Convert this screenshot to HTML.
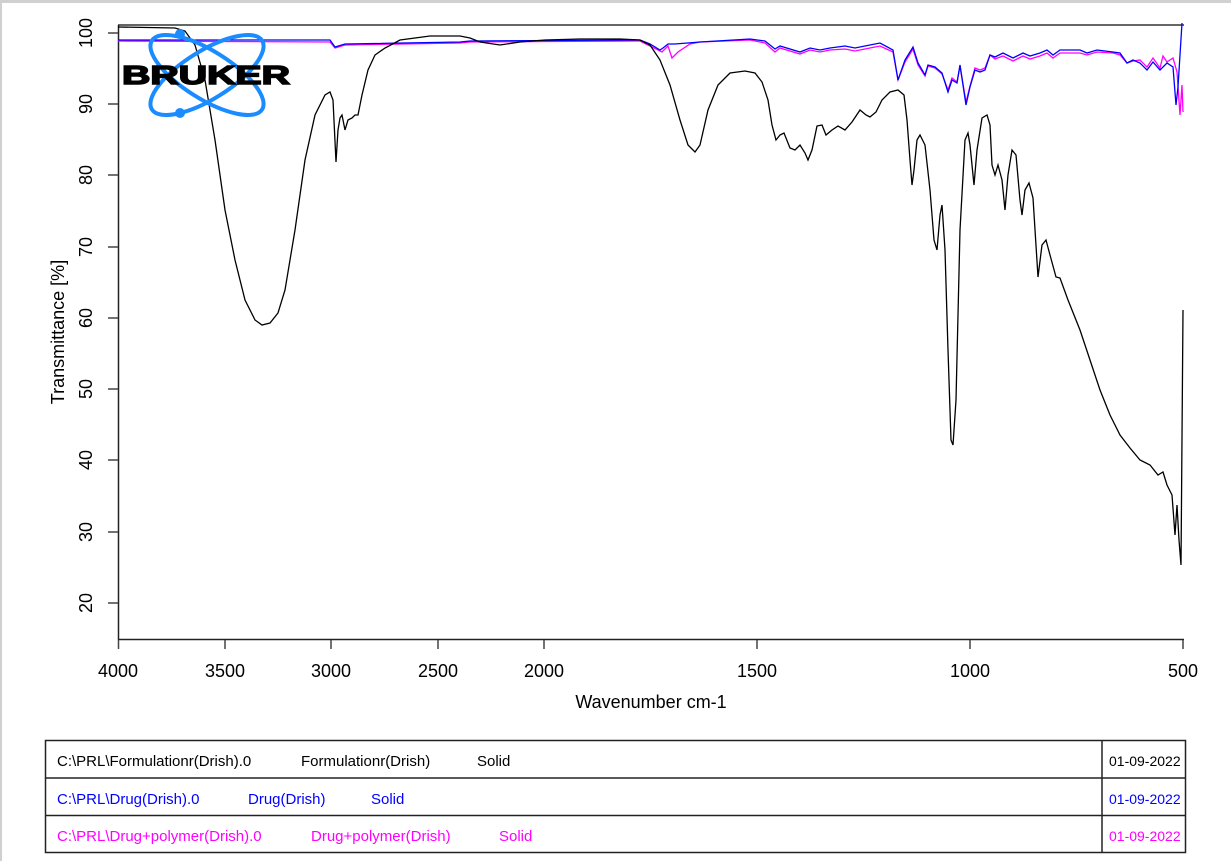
<!DOCTYPE html>
<html><head><meta charset="utf-8"><style>
body{margin:0;background:#fff;}
svg{display:block;font-family:"Liberation Sans",Arial,sans-serif;}
</style></head><body>
<svg width="1231" height="861" viewBox="0 0 1231 861" xmlns="http://www.w3.org/2000/svg">
<rect x="0" y="0" width="1231" height="861" fill="#fff"/>
<rect x="0" y="0" width="1231" height="3" fill="#d0d0d0"/>
<rect x="0" y="0" width="2" height="861" fill="#d0d0d0"/>
<line x1="118" y1="25" x2="1184" y2="25" stroke="#666" stroke-width="2"/>
<line x1="118.5" y1="25" x2="118.5" y2="640" stroke="#222" stroke-width="1.5"/>
<line x1="118" y1="639.5" x2="1184" y2="639.5" stroke="#222" stroke-width="1.5"/>
<g stroke="#444" stroke-width="1.5">
<line x1="108" y1="33" x2="118" y2="33"/><line x1="108" y1="104" x2="118" y2="104"/>
<line x1="108" y1="175" x2="118" y2="175"/><line x1="108" y1="247" x2="118" y2="247"/>
<line x1="108" y1="318" x2="118" y2="318"/><line x1="108" y1="389" x2="118" y2="389"/>
<line x1="108" y1="460" x2="118" y2="460"/><line x1="108" y1="532" x2="118" y2="532"/>
<line x1="108" y1="603" x2="118" y2="603"/>
<line x1="118.5" y1="640" x2="118.5" y2="649"/><line x1="225" y1="640" x2="225" y2="649"/>
<line x1="331" y1="640" x2="331" y2="649"/><line x1="438" y1="640" x2="438" y2="649"/>
<line x1="544" y1="640" x2="544" y2="649"/>
<line x1="757" y1="640" x2="757" y2="649"/>
<line x1="970" y1="640" x2="970" y2="649"/>
<line x1="1183" y1="640" x2="1183" y2="649"/>
</g>
<g font-size="18" fill="#000" text-anchor="middle">
<text x="118" y="677">4000</text><text x="225" y="677">3500</text><text x="331" y="677">3000</text>
<text x="438" y="677">2500</text><text x="544" y="677">2000</text><text x="757" y="677">1500</text>
<text x="970" y="677">1000</text><text x="1183" y="677">500</text>
</g>
<g font-size="18" fill="#000" text-anchor="middle">
<text transform="translate(92,33) rotate(-90)">100</text>
<text transform="translate(92,104) rotate(-90)">90</text>
<text transform="translate(92,175) rotate(-90)">80</text>
<text transform="translate(92,247) rotate(-90)">70</text>
<text transform="translate(92,318) rotate(-90)">60</text>
<text transform="translate(92,389) rotate(-90)">50</text>
<text transform="translate(92,460) rotate(-90)">40</text>
<text transform="translate(92,532) rotate(-90)">30</text>
<text transform="translate(92,603) rotate(-90)">20</text>
<text transform="translate(64,332) rotate(-90)">Transmittance [%]</text>
<text x="651" y="708">Wavenumber cm-1</text>
</g>
<polyline fill="none" stroke="#ff00ff" stroke-width="1.3" points="118,41 330,42 335,48 345,45 460,43 470,42 640,41 650,46 662,52 668,46 672,58 678,52 690,44 700,42 750,40 765,43 775,52 780,48 800,54 810,50 820,52 830,50 845,49 855,51 870,48 880,46 893,52 898,80 905,62 913,49 918,65 925,76 928,66 935,68 942,74 948,90 952,78 957,82 960,66 966,102 970,86 975,68 980,70 985,68 990,55 995,59 1003,56 1013,61 1023,56 1030,59 1040,56 1047,53 1053,58 1060,53 1080,53 1087,55 1097,52 1113,53 1120,55 1127,63 1133,61 1140,60 1147,67 1153,58 1160,68 1163,56 1167,62 1173,58 1177,72 1180,115 1182,85 1183,112"/>
<polyline fill="none" stroke="#0000ff" stroke-width="1.3" points="118,40 330,40 335,47 345,44 460,42 470,41 640,40 650,44 660,50 663,48 668,44 675,44 700,42 750,39 765,41 775,49 780,46 800,52 810,48 820,50 830,48 845,46 855,48 870,45 880,43 893,50 898,80 905,60 913,47 918,63 925,75 928,65 935,67 942,73 948,92 952,80 957,83 960,65 966,105 970,87 975,70 980,72 985,70 990,55 995,57 1003,53 1013,58 1023,53 1030,56 1040,53 1047,50 1053,55 1060,50 1080,50 1087,53 1097,50 1113,52 1120,53 1127,63 1133,60 1140,63 1147,70 1153,62 1160,70 1167,63 1173,67 1176,105 1178,87 1182,23"/>
<polyline fill="none" stroke="#000" stroke-width="1.3" points="118,27 175,28 185,31 195,45 205,80 215,140 225,210 235,260 245,300 255,320 262,325 270,323 278,313 285,290 295,230 305,160 315,115 325,95 330,92 333,100 336,162 338,130 340,118 342,115 345,130 348,120 352,118 355,115 358,115 362,95 368,70 375,55 385,48 400,40 430,36 460,36 470,38 480,42 500,45 520,42 545,40 580,39 620,39 640,40 650,45 660,60 670,85 680,120 688,145 695,152 700,145 708,110 718,85 730,73 745,71 755,73 762,82 768,100 772,125 776,140 780,135 784,133 790,148 795,150 800,145 805,153 808,160 812,150 817,126 822,125 826,135 832,130 838,126 845,130 852,122 860,110 866,115 870,117 876,112 882,100 890,92 898,90 904,95 907,120 910,160 912,185 914,170 917,140 920,135 925,145 930,190 934,240 937,250 940,215 942,205 945,250 948,350 951,440 953,445 956,400 960,230 965,140 968,133 970,145 974,185 977,150 982,118 987,115 990,125 992,165 995,175 998,165 1002,180 1005,210 1008,175 1012,150 1016,155 1020,200 1022,215 1025,190 1029,183 1033,198 1038,277 1042,245 1046,240 1050,255 1056,277 1060,278 1068,300 1080,330 1090,360 1100,390 1110,415 1120,435 1130,448 1140,460 1150,465 1158,475 1163,472 1167,485 1172,495 1175,535 1177,505 1179,540 1181,565 1183,310"/>
<g fill="none" stroke="#1a8cff" stroke-width="4">
<ellipse cx="207" cy="75" rx="65" ry="24" transform="rotate(32 207 75)"/>
<ellipse cx="207" cy="75" rx="65" ry="24" transform="rotate(-32 207 75)"/>
</g>
<circle cx="180" cy="34" r="5" fill="#1a8cff"/>
<circle cx="180" cy="113" r="5" fill="#1a8cff"/>
<text x="122" y="84" font-size="26" font-weight="bold" fill="#000" stroke="#000" stroke-width="1.5" textLength="168" lengthAdjust="spacingAndGlyphs">BRUKER</text>
<g stroke="#222" stroke-width="1.5" fill="none">
<rect x="45.5" y="740.5" width="1140" height="112"/>
<line x1="45" y1="778" x2="1186" y2="778"/>
<line x1="45" y1="815.5" x2="1186" y2="815.5"/>
<line x1="1102" y1="740" x2="1102" y2="853"/>
</g>
<g font-size="15">
<text x="57" y="766" fill="#000">C:\PRL\Formulationr(Drish).0</text>
<text x="301" y="766" fill="#000">Formulationr(Drish)</text>
<text x="477" y="766" fill="#000">Solid</text>
<text x="1109" y="766" fill="#000" font-size="14">01-09-2022</text>
<text x="57" y="804" fill="#0000ff">C:\PRL\Drug(Drish).0</text>
<text x="248" y="804" fill="#0000ff">Drug(Drish)</text>
<text x="371" y="804" fill="#0000ff">Solid</text>
<text x="1109" y="804" fill="#0000ff" font-size="14">01-09-2022</text>
<text x="57" y="841" fill="#ff00ff">C:\PRL\Drug+polymer(Drish).0</text>
<text x="311" y="841" fill="#ff00ff">Drug+polymer(Drish)</text>
<text x="499" y="841" fill="#ff00ff">Solid</text>
<text x="1109" y="841" fill="#ff00ff" font-size="14">01-09-2022</text>
</g>
</svg>
</body></html>
